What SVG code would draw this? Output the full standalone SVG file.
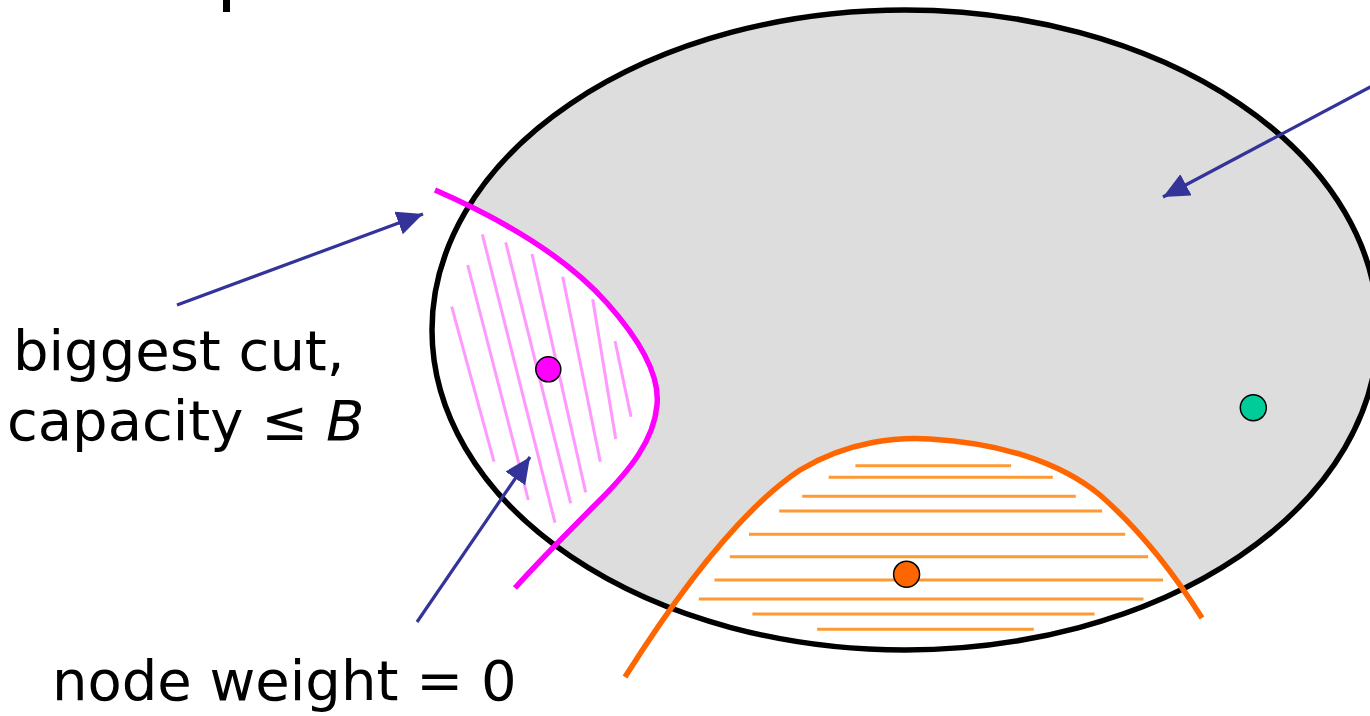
<svg xmlns="http://www.w3.org/2000/svg" width="1370" height="716" viewBox="0 0 1370 716">
<style>
.lbl{font-family:"DejaVu Sans",sans-serif;font-size:56px;fill:#000}
.pinkh{stroke:#FF99FF;stroke-width:3;fill:none}
.orgh{stroke:#FF9933;stroke-width:3;fill:none}
.arrow{stroke:#333399;stroke-width:3.2;fill:none;marker-end:url(#ah)}
.dot{stroke:#000;stroke-width:1.5}
</style>
<defs>
<clipPath id="ell"><ellipse cx="905" cy="330" rx="473" ry="320"/></clipPath>
<marker id="ah" viewBox="0 0 26 24" refX="26" refY="12" markerWidth="26" markerHeight="24" markerUnits="userSpaceOnUse" orient="auto"><path d="M0,0 L26,12 L0,24 Z" fill="#333399"/></marker>
</defs>
<rect x="0" y="0" width="1370" height="716" fill="#fff"/>
<rect x="223" y="0" width="7" height="12" fill="#000"/>
<g id="region">
<ellipse cx="905" cy="330" rx="473" ry="320" fill="#DDDDDD"/>
<g clip-path="url(#ell)">
<path d="M435,190 C490,214 560,250 607,303 C640,340 660,375 657,405 C654,440 630,470 600,500 C570,530 540,560 515,588 L300,588 L300,190 Z" fill="#fff"/>
<path d="M625,677 C680,590 740,510 800,470 C850,440 900,437 930,439 C1000,443 1060,462 1100,495 C1140,530 1175,575 1202,618 L1202,700 L625,700 Z" fill="#fff"/>
</g>
<ellipse cx="905" cy="330" rx="473" ry="320" fill="none" stroke="#000" stroke-width="5.5"/>
</g>
<g id="cut-magenta">
<g class="pinkh">
<line x1="451.7" y1="306.7" x2="494" y2="461.7"/>
<line x1="467.7" y1="265" x2="528.3" y2="500"/>
<line x1="482.3" y1="234.3" x2="555" y2="522.7"/>
<line x1="505.7" y1="242.3" x2="570.7" y2="503.3"/>
<line x1="532" y1="254" x2="585.7" y2="492.3"/>
<line x1="562.7" y1="276.7" x2="600.3" y2="461.7"/>
<line x1="592.7" y1="299.3" x2="615.7" y2="439"/>
<line x1="615" y1="341" x2="631" y2="416.7"/>
</g>
<path d="M435,190 C490,214 560,250 607,303 C640,340 660,375 657,405 C654,440 630,470 600,500 C570,530 540,560 515,588" fill="none" stroke="#FF00FF" stroke-width="5.5"/>
</g>
<g id="cut-orange">
<g class="orgh">
<line x1="855.4" y1="465.7" x2="1011.1" y2="465.7"/>
<line x1="828.6" y1="477.3" x2="1052.8" y2="477.3"/>
<line x1="802.2" y1="496.3" x2="1075.8" y2="496.3"/>
<line x1="779.2" y1="511" x2="1102.2" y2="511"/>
<line x1="749" y1="534.3" x2="1125.2" y2="534.3"/>
<line x1="729.8" y1="556.7" x2="1148.1" y2="556.7"/>
<line x1="714.5" y1="580" x2="1163.1" y2="580"/>
<line x1="698.8" y1="599" x2="1143.5" y2="599"/>
<line x1="752.4" y1="614" x2="1094.6" y2="614"/>
<line x1="817.1" y1="629.3" x2="1033.7" y2="629.3"/>
</g>
<path d="M625,677 C680,590 740,510 800,470 C850,440 900,437 930,439 C1000,443 1060,462 1100,495 C1140,530 1175,575 1202,618" fill="none" stroke="#FF6600" stroke-width="5.5"/>
</g>
<g id="node-magenta"><circle class="dot" cx="548.3" cy="369.3" r="12.5" fill="#FF00FF"/></g>
<g id="node-orange"><circle class="dot" cx="906.6" cy="574.3" r="13" fill="#FF6600"/></g>
<g id="node-green"><circle class="dot" cx="1253.3" cy="407.7" r="13" fill="#00CC99"/></g>
<g id="connectors">
<line class="arrow" x1="1374" y1="85" x2="1163" y2="197"/>
<line class="arrow" x1="177" y1="305" x2="423" y2="214"/>
<line class="arrow" x1="417" y1="622" x2="530" y2="457"/>
</g>
<g id="labels">
<text class="lbl" x="13" y="370">biggest cut,</text>
<text class="lbl" x="7" y="440">capacity ≤ <tspan font-style="italic">B</tspan></text>
<text class="lbl" x="52" y="700">node weight = 0</text>
</g>
</svg>
